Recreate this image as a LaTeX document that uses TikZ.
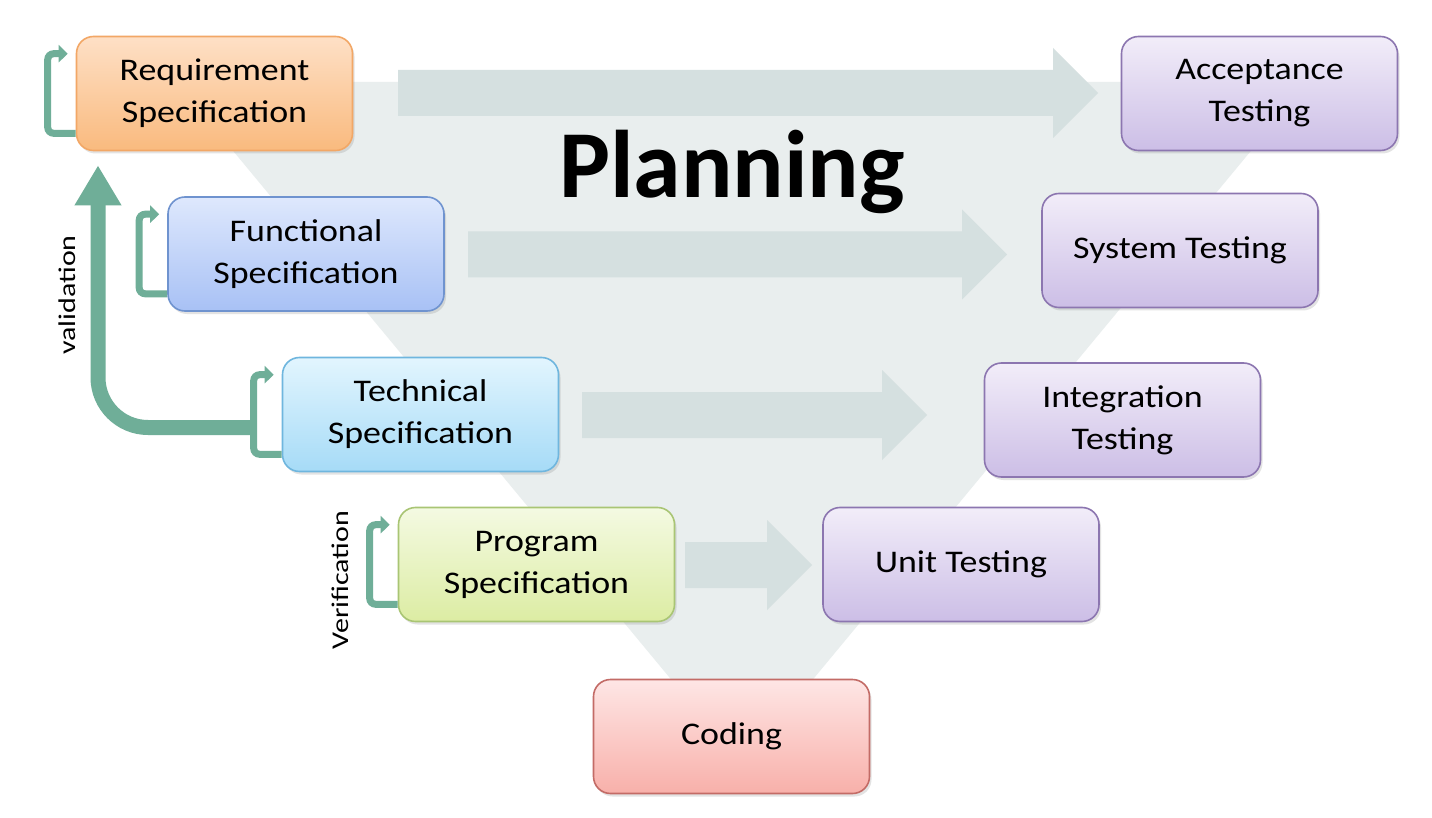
\documentclass[tikz,border=0pt]{standalone}
\usepackage{fontspec}
\setmainfont{Carlito}
\newfontfamily\widefont[FakeStretch=1.14]{Carlito}
\newfontfamily\labelfont[FakeStretch=1.25]{Carlito}
\usetikzlibrary{arrows.meta,shadows}
\definecolor{tri}{HTML}{E9EEEE}
\definecolor{garr}{HTML}{D5E0E0}
\definecolor{loopc}{HTML}{6FAE98}
\definecolor{reqT}{HTML}{FEE0C6}\definecolor{reqB}{HTML}{F9BA7E}\definecolor{reqD}{HTML}{F2A766}
\definecolor{funT}{HTML}{DEE8FD}\definecolor{funB}{HTML}{A8C1F5}\definecolor{funD}{HTML}{6F93CF}
\definecolor{tecT}{HTML}{E2F5FE}\definecolor{tecB}{HTML}{A6DBF7}\definecolor{tecD}{HTML}{6FB6DE}
\definecolor{proT}{HTML}{F4FAE2}\definecolor{proB}{HTML}{DCECA3}\definecolor{proD}{HTML}{A9C574}
\definecolor{codT}{HTML}{FEE6E5}\definecolor{codB}{HTML}{F8B0AA}\definecolor{codD}{HTML}{C36B66}
\definecolor{tstT}{HTML}{F2EDF9}\definecolor{tstB}{HTML}{CCBEE6}\definecolor{tstD}{HTML}{8C76B0}
\newcommand{\grayarrow}[3]{% x start, x tip, y mid
  \fill[garr] (#1,#3-23) -- (#2-45,#3-23) -- (#2-45,#3-45) -- (#2,#3)
    -- (#2-45,#3+45) -- (#2-45,#3+23) -- (#1,#3+23) -- cycle;}
\tikzset{
  box/.style={rectangle, rounded corners=17pt, draw, line width=1.6pt,
    minimum width=276pt, minimum height=114pt, inner sep=0pt, align=center,
    font=\widefont\fontsize{31.5}{42}\selectfont, text=black,
    drop shadow={opacity=0.22, shadow xshift=2pt, shadow yshift=-3pt}},
  reqbox/.style={box, top color=reqT, bottom color=reqB, draw=reqD},
  funbox/.style={box, top color=funT, bottom color=funB, draw=funD},
  tecbox/.style={box, top color=tecT, bottom color=tecB, draw=tecD},
  probox/.style={box, top color=proT, bottom color=proB, draw=proD},
  codbox/.style={box, top color=codT, bottom color=codB, draw=codD},
  tstbox/.style={box, top color=tstT, bottom color=tstB, draw=tstD},
  selfloop/.style={draw=loopc, line width=7pt, rounded corners=6pt,
    -{Triangle[length=9pt,width=17pt]}},
  validarrow/.style={draw=loopc, line width=15pt, rounded corners=50pt,
    -{Triangle[length=40pt,width=44pt]}},
  sidelabel/.style={rotate=90, font=\labelfont\fontsize{24}{24}\selectfont, text=black}
}
\begin{document}
\begin{tikzpicture}[x=1pt,y=-1pt]
\useasboundingbox (0,0) rectangle (1432,818);
\fill[white] (0,0) rectangle (1432,818);
% background triangle
\fill[tri] (176,82) -- (1308,82) -- (742,765) -- cycle;
% gray arrows
\grayarrow{398}{1098}{93}
\grayarrow{468}{1007}{254.5}
\grayarrow{582}{927}{415}
\grayarrow{685}{812}{565}
% title
\node[anchor=base, font=\fontsize{96}{96}\selectfont\bfseries] (title) at (732,198) {Planning};
% boxes
\node[reqbox] (req) at (214.5,93.5) {Requirement\\Specification};
\node[funbox] (fun) at (306,254) {Functional\\Specification};
\node[tecbox] (tec) at (420.5,414.5) {Technical\\Specification};
\node[probox] (pro) at (536.5,564.5) {Program\\Specification};
\node[codbox] (cod) at (731.5,736.5) {Coding};
\node[tstbox] (acc) at (1259.5,93.5) {Acceptance\\Testing};
\node[tstbox] (sys) at (1180,250.5) {System Testing};
\node[tstbox] (int) at (1122.5,420) {Integration\\Testing};
\node[tstbox] (uni) at (961,564.5) {Unit Testing};
% self loops
\foreach \n in {req,fun,tec,pro}{
  \draw[selfloop] ([yshift=18pt]\n.south west) -- ++(-28,0) |- ([xshift=-8pt,yshift=-18pt]\n.north west);
}
% validation arrow
\coordinate (vstart) at ([xshift=-30pt,yshift=-13pt]tec.west);
\coordinate (vtip) at ([yshift=-14pt]req.south west -| 98,0);
\draw[validarrow] (vstart) -| (vtip);
% labels
\node[sidelabel] (vlab) at (67,295) {validation};
\node[sidelabel] (verlab) at (340,580) {Verification};
\end{tikzpicture}
\end{document}
